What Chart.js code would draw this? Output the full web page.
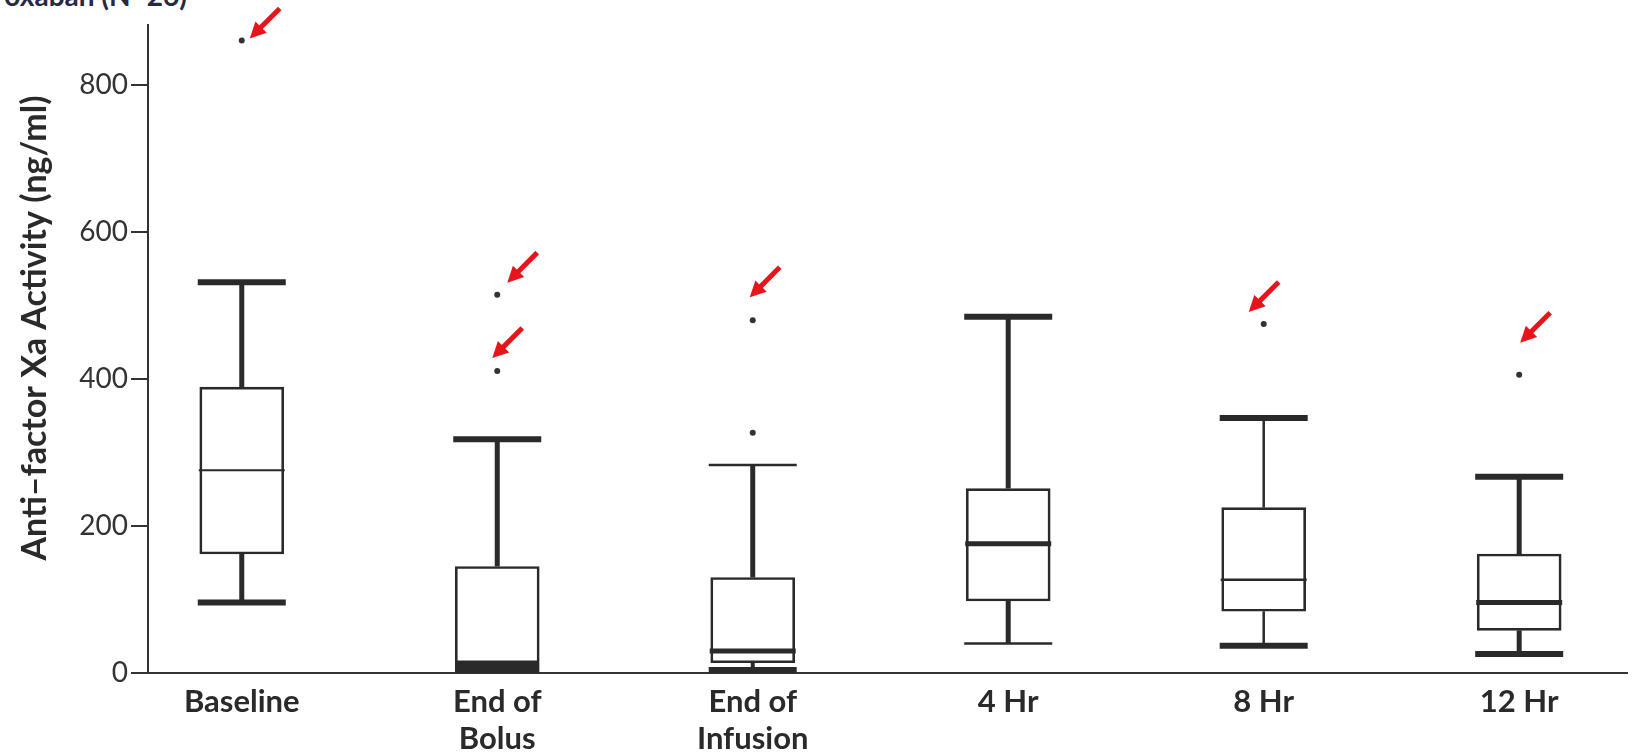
<!DOCTYPE html>
<html>
<head>
<meta charset="utf-8">
<script src="https://cdn.jsdelivr.net/npm/chart.js@4.4.1/dist/chart.umd.min.js"></script>
<style>
  html, body { margin: 0; padding: 0; background: #fff; }
  body { position: relative; width: 1632px; height: 753px; overflow: hidden; }
  #wrap { position: absolute; left: 0; top: 0; width: 1632px; height: 753px; }
  #cut { position: absolute; right: 1445px; top: -19px; font: bold 28px Lato, sans-serif;
         line-height: 28px; color: #262a40; white-space: nowrap; }
</style>
</head>
<body>
<div id="cut">Rivaroxaban (N=26)</div>
<div id="wrap"><canvas id="c"></canvas></div>
<script>
// categories and box-plot values (ng/ml)
const categories = ["Baseline", "End of\nBolus", "End of\nInfusion", "4 Hr", "8 Hr", "12 Hr"];
const whiskerLow = [96, 0, 4, 40, 37, 26];
const q1 = [162, 0, 14, 98, 84, 58];
const median = [276, 17, 30, 176, 127, 96];
const q3 = [389, 145, 130, 251, 225, 162];
const whiskerHigh = [532, 318, 283, 485, 347, 267];
const outliers = [[861], [515, 411], [480, 327], [], [475], [406]];
const yTicks = [0, 200, 400, 600, 800];

// red arrows point at these outliers: [category, value]
const arrowTargets = [[0, 861], [1, 515], [1, 411], [2, 480], [4, 475], [5, 406]];
const arrowOffsets = [[8, -2], [10, -12], [-5, -13], [-3, -23], [-15, -12], [1, -32]];

// line weights per box (the figure is inconsistent, so copy it)
const capHighW = [6, 6, 2.5, 6, 6, 6];
const capLowW = [6, 0, 6, 2.5, 6, 6];
const stemHighW = [5, 5, 5, 5, 2.5, 5];
const stemLowW = [5, 0, 4, 5, 2.5, 5];
const medianW = [2, 0, 5, 5, 2.5, 5];
const lowerFilled = [false, true, false, false, false, false];

const INK = "#2a2a2a";
const FONT = "Lato, 'Open Sans', sans-serif";

const boxPlot = {
  id: "boxPlot",
  afterDatasetsDraw(chart) {
    const { ctx, scales: { x, y } } = chart;
    ctx.save();
    ctx.strokeStyle = INK;
    ctx.fillStyle = INK;
    ctx.lineCap = "butt";
    const hb = 41, hc = 44;
    categories.forEach((_, i) => {
      const cx = x.getPixelForValue(i);
      const line = (x0, y0, x1, y1, w) => {
        if (!w) return;
        ctx.lineWidth = w;
        ctx.beginPath(); ctx.moveTo(x0, y0); ctx.lineTo(x1, y1); ctx.stroke();
      };
      // whiskers
      line(cx, y.getPixelForValue(q3[i]), cx, y.getPixelForValue(whiskerHigh[i]), stemHighW[i]);
      line(cx - hc, y.getPixelForValue(whiskerHigh[i]), cx + hc, y.getPixelForValue(whiskerHigh[i]), capHighW[i]);
      if (whiskerLow[i] < q1[i]) {
        line(cx, y.getPixelForValue(q1[i]), cx, y.getPixelForValue(whiskerLow[i]), stemLowW[i]);
      }
      line(cx - hc, y.getPixelForValue(whiskerLow[i]), cx + hc, y.getPixelForValue(whiskerLow[i]), capLowW[i]);
      // median
      if (lowerFilled[i]) {
        const top = y.getPixelForValue(median[i]);
        const bot = y.getPixelForValue(q1[i]);
        ctx.fillRect(cx - hb, top, hb * 2, bot - top);
      } else {
        line(cx - hb - 2, y.getPixelForValue(median[i]), cx + hb + 2, y.getPixelForValue(median[i]), medianW[i]);
      }
    });

    // annotation arrows
    ctx.strokeStyle = "#e8141b";
    ctx.fillStyle = "#e8141b";
    arrowTargets.forEach(([cat, val], k) => {
      const px = x.getPixelForValue(cat) + arrowOffsets[k][0];
      const py = y.getPixelForValue(val) + arrowOffsets[k][1];
      const tx = px + 30, ty = py - 30;
      const len = Math.hypot(tx - px, ty - py);
      const ux = (tx - px) / len, uy = (ty - py) / len;
      const headL = 16, headW = 8;
      ctx.lineWidth = 5;
      ctx.beginPath();
      ctx.moveTo(tx, ty);
      ctx.lineTo(px + ux * (headL - 2), py + uy * (headL - 2));
      ctx.stroke();
      const bx = px + ux * headL, by = py + uy * headL;
      ctx.beginPath();
      ctx.moveTo(px, py);
      ctx.lineTo(bx - uy * headW, by + ux * headW);
      ctx.lineTo(bx + uy * headW, by - ux * headW);
      ctx.closePath();
      ctx.fill();
    });

    // y axis title
    ctx.fillStyle = INK;
    ctx.font = "bold 34px " + FONT;
    ctx.textAlign = "center";
    ctx.textBaseline = "middle";
    ctx.translate(35, 328);
    ctx.rotate(-Math.PI / 2);
    ctx.fillText("Anti\u2013factor Xa Activity (ng/ml)", 0, 0);
    ctx.restore();
  }
};

const boxData = categories.map((_, i) => ({ x: i, y: [q1[i], q3[i]] }));
const outlierData = [];
outliers.forEach((vals, i) => vals.forEach(v => outlierData.push({ x: i, y: v })));

new Chart(document.getElementById("c"), {
  type: "bar",
  data: {
    datasets: [
      {
        type: "bar",
        data: boxData,
        backgroundColor: "rgba(255,255,255,0)",
        borderColor: INK,
        borderWidth: 2,
        borderSkipped: false,
        barThickness: 84,
        grouped: false
      },
      {
        type: "scatter",
        data: outlierData,
        pointRadius: 3,
        pointBackgroundColor: "#333",
        pointBorderWidth: 0
      }
    ]
  },
  options: {
    responsive: true,
    maintainAspectRatio: false,
    animation: false,
    events: [],
    layout: { padding: { top: 25, right: 5, left: 0, bottom: 0 } },
    plugins: { legend: { display: false }, tooltip: { enabled: false } },
    scales: {
      x: {
        type: "linear",
        offset: false,
        min: -0.367,
        max: 5.422,
        afterBuildTicks: s => { s.ticks = categories.map((_, i) => ({ value: i })); },
        afterFit: s => { s.height = 80; },
        grid: { display: false, offset: false },
        border: { display: true, color: "#333", width: 2 },
        ticks: {
          autoSkip: false,
          maxRotation: 0,
          padding: 2,
          color: INK,
          font: { family: FONT, size: 31, weight: "bold", lineHeight: 1.2 },
          callback: v => categories[v] ? categories[v].split("\n") : ""
        }
      },
      y: {
        min: 0,
        max: 882,
        afterBuildTicks: s => { s.ticks = yTicks.map(v => ({ value: v })); },
        afterFit: s => { s.width = 148; },
        grid: { drawOnChartArea: false, drawTicks: true, tickLength: 17, tickWidth: 2, tickColor: "#333", lineWidth: 2 },
        border: { display: true, color: "#333", width: 2 },
        ticks: {
          padding: 3,
          color: "#333",
          font: { family: FONT, size: 28 }
        }
      }
    }
  },
  plugins: [boxPlot]
});
</script>
</body>
</html>
